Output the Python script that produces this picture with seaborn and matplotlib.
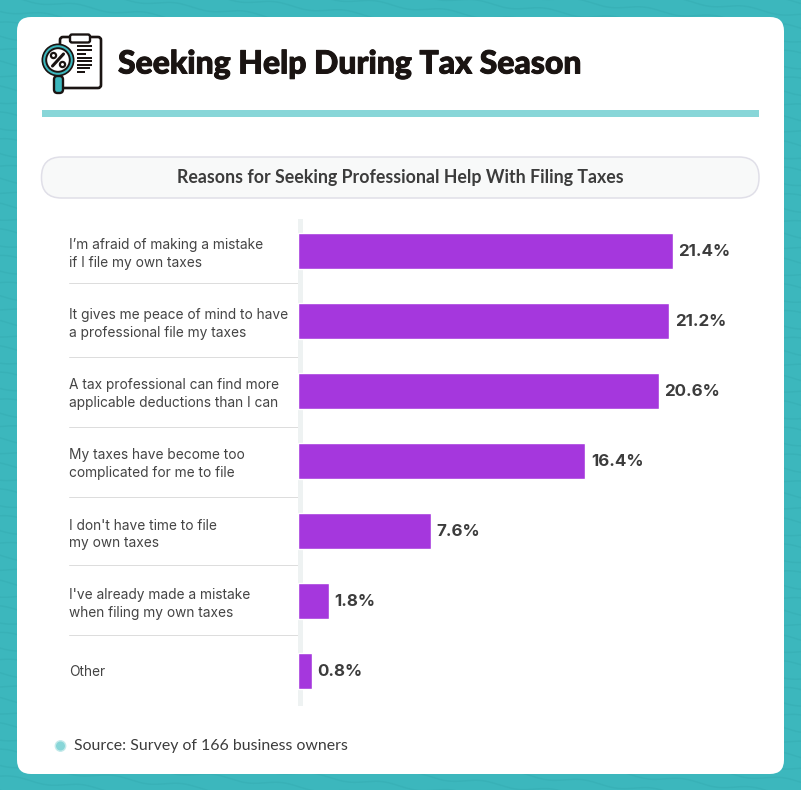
"""Seeking Help During Tax Season: horizontal bar chart on a teal card."""

import matplotlib

matplotlib.use("Agg")

import matplotlib.patheffects as pe
import matplotlib.pyplot as plt
import numpy as np
import pandas as pd
import seaborn as sns
from matplotlib.patches import Circle, FancyBboxPatch, Rectangle

TITLE = "Seeking Help During Tax Season"
SUBTITLE = "Reasons for Seeking Professional Help With Filing Taxes"
SOURCE = "Source: Survey of 166 business owners"

reasons = [
    "I’m afraid of making a mistake\nif I file my own taxes",
    "It gives me peace of mind to have\na professional file my taxes",
    "A tax professional can find more\napplicable deductions than I can",
    "My taxes have become too\ncomplicated for me to file",
    "I don't have time to file\nmy own taxes",
    "I've already made a mistake\nwhen filing my own taxes",
    "Other",
]
shares = [21.4, 21.2, 20.6, 16.4, 7.6, 1.8, 0.8]

TEAL = "#3cb7bd"
LIGHT_TEAL = "#88d6d8"
PURPLE = "#a537dd"
DARK = "#1a1412"
TEXT = "#3c3c3c"
W, H = 801, 790
PX = 0.72  # points per pixel at dpi 100

sns.set_theme(style="white")
plt.rcParams["font.family"] = ["Lato", "DejaVu Sans"]

fig = plt.figure(figsize=(W / 100, H / 100), dpi=100, facecolor=TEAL)

# page furniture is laid out in pixels on a full-figure axes
bg = fig.add_axes([0, 0, 1, 1], zorder=0)
bg.set_xlim(0, W)
bg.set_ylim(H, 0)
bg.axis("off")

# faint wave texture on the teal border
xs = np.linspace(0, W, 500)
for y0 in range(-120, H + 20, 13):
    bg.plot(xs, y0 + 0.12 * xs + 2.2 * np.sin(xs / 11 + y0 * 0.7), color="#38b1b7", lw=1.0, zorder=0)


def rounded(ax, x0, y0, x1, y1, r, **kw):
    patch = FancyBboxPatch((x0 + r, y0 + r), x1 - x0 - 2 * r, y1 - y0 - 2 * r,
                           boxstyle=f"round,pad={r},rounding_size={r}", **kw)
    ax.add_patch(patch)
    return patch


rounded(bg, 17, 17, 784, 774, 14, fc="white", ec="none", zorder=1)
bg.add_patch(Rectangle((42, 110), 717, 7, fc=LIGHT_TEAL, ec="none", zorder=2))
rounded(bg, 41.5, 157, 759, 198, 20, fc="#f8f9f9", ec="#e0dfe8", lw=1.1, zorder=2)

# clipboard and magnifier icon
rounded(bg, 60, 37, 101, 88, 3, fc="white", ec=DARK, lw=1.9, zorder=3)
rounded(bg, 70, 34.5, 90, 42.5, 2, fc="white", ec=DARK, lw=1.7, zorder=4)
for y, x1 in zip([46, 50, 54, 57.5, 61, 64.5, 68, 71.5], [92, 92, 86, 92, 92, 92, 90, 85]):
    bg.add_patch(Rectangle((77, y - 1), x1 - 77, 2.3, fc=DARK, ec="none", zorder=4))
rounded(bg, 54, 76, 63, 93, 3.5, fc=TEAL, ec=DARK, lw=1.7, zorder=4)
bg.add_patch(Circle((58, 60), 16.5, fc=DARK, ec="none", zorder=5))
bg.add_patch(Circle((58, 60), 14.8, fc=TEAL, ec="none", zorder=5))
bg.add_patch(Circle((58, 60), 11.8, fc="white", ec=DARK, lw=1.4, zorder=5))
bg.plot([52.5, 63.5], [66, 54], color=DARK, lw=2.2, solid_capstyle="round", zorder=6)
bg.add_patch(Circle((53.5, 55.5), 2.6, fc="white", ec=DARK, lw=1.6, zorder=6))
bg.add_patch(Circle((62.5, 64.5), 2.6, fc="white", ec=DARK, lw=1.6, zorder=6))

bg.text(118, 64, TITLE, ha="left", va="center", fontsize=23, fontweight="black", color=DARK,
        zorder=3, path_effects=[pe.withStroke(linewidth=0.7, foreground=DARK)])
bg.text(400.5, 177, SUBTITLE, ha="center", va="center", fontsize=12.75, fontweight="bold",
        color=TEXT, zorder=3)

# row separators and the pale axis strip behind the bars
for y in [283, 357, 427, 497, 565, 635]:
    bg.plot([69, 298], [y, y], color="#dcdcdc", lw=0.7, zorder=2)
bg.add_patch(Rectangle((298, 219), 5, 487, fc="#eef2f2", ec="none", zorder=2))

# source note
bg.add_patch(Circle((60.5, 746), 5.2, fc=LIGHT_TEAL, ec="#c4eaea", lw=1, zorder=3))
bg.text(74, 746, SOURCE, ha="left", va="center", fontsize=11.45, color=TEXT, zorder=3)

# bar chart
df = pd.DataFrame({"reason": reasons, "share": shares})
ax = fig.add_axes([297.6 / W, 1 - 706 / H, (W - 297.6) / W, 490 / H], zorder=1)
ax.patch.set_alpha(0)
sns.barplot(data=df, y="reason", x="share", color=PURPLE, saturation=1, width=0.525, ax=ax)
ax.set_xlim(0, (W - 297.6) / 17.54)
ax.set_ylim(6.5, -0.5)
ax.set_xlabel("")
ax.set_ylabel("")
ax.set_xticks([])
sns.despine(ax=ax, left=True, bottom=True)
ax.tick_params(axis="y", length=0, pad=228.6 * PX)
for label in ax.get_yticklabels():
    label.set_ha("left")
    label.set_family("Inter")
    label.set_fontsize(9.9)
    label.set_color("#444444")
    label.set_linespacing(1.28)
ax.bar_label(ax.containers[0], labels=[f"{v}%" for v in shares], padding=5.5 * PX, fontsize=12.2,
             fontweight="bold", color=TEXT, family="Inter")

fig.savefig("out.png", dpi=100, facecolor=TEAL)
